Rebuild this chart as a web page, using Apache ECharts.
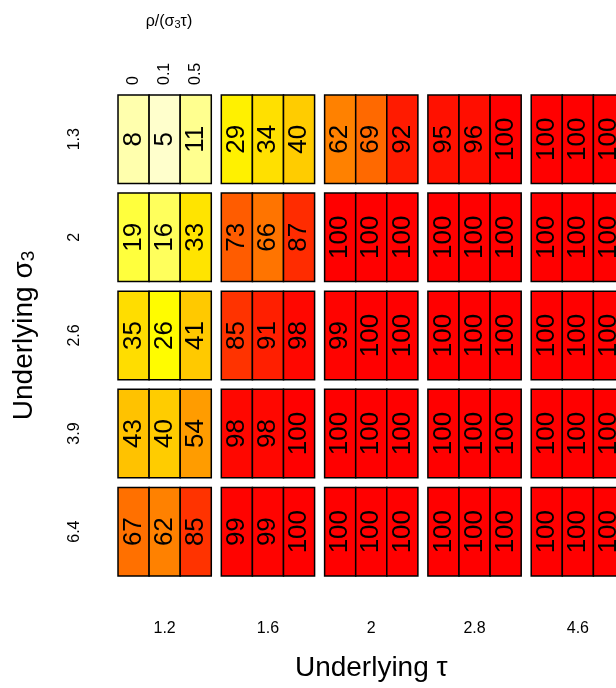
<!DOCTYPE html>
<html>
<head>
<meta charset="utf-8">
<script src="https://cdn.jsdelivr.net/npm/echarts@6/dist/echarts.min.js"></script>
<style>
html,body{margin:0;padding:0;background:#fff;}
#chart{width:616px;height:688px;}
</style>
</head>
<body>
<div id="chart"></div>
<script>
// Categories
var tauLabels = ['1.2', '1.6', '2', '2.8', '4.6'];
var sigma3Labels = ['1.3', '2', '2.6', '3.9', '6.4'];
var rhoLabels = ['0', '0.1', '0.5'];

// Values: rows = sigma3, columns = tau
var power_rho0 = [
  [8, 29, 62, 95, 100],
  [19, 73, 100, 100, 100],
  [35, 85, 99, 100, 100],
  [43, 98, 100, 100, 100],
  [67, 99, 100, 100, 100]
];
var power_rho01 = [
  [5, 34, 69, 96, 100],
  [16, 66, 100, 100, 100],
  [26, 91, 100, 100, 100],
  [40, 98, 100, 100, 100],
  [62, 99, 100, 100, 100]
];
var power_rho05 = [
  [11, 40, 92, 100, 100],
  [33, 87, 100, 100, 100],
  [41, 98, 100, 100, 100],
  [54, 100, 100, 100, 100],
  [85, 100, 100, 100, 100]
];

var byRho = [power_rho0, power_rho01, power_rho05];
var data = [];
for (var s = 0; s < sigma3Labels.length; s++) {
  for (var t = 0; t < tauLabels.length; t++) {
    for (var r = 0; r < rhoLabels.length; r++) {
      data.push([t, s, r, byRho[r][s][t]]);
    }
  }
}

var FONT = "'Liberation Sans', Arial, Helvetica, sans-serif";
var FILL_W = 0.903, FILL_H = 0.902;

var chart = echarts.init(document.getElementById('chart'), null, {renderer: 'canvas'});
chart.setOption({
  backgroundColor: '#ffffff',
  animation: false,
  textStyle: {fontFamily: FONT, color: '#000'},
  title: {
    text: '{a|ρ/(σ}{s|3}{a|τ)}',
    left: 164, top: 6, textAlign: 'center',
    textStyle: {
      fontWeight: 'normal',
      rich: {
        a: {fontFamily: FONT, fontSize: 16, fontWeight: 'normal', color: '#000', verticalAlign: 'bottom', lineHeight: 19},
        s: {fontFamily: FONT, fontSize: 11, fontWeight: 'normal', color: '#000', verticalAlign: 'bottom', lineHeight: 13}
      }
    }
  },
  grid: [
    {left: 113, top: 90.2, width: 516.5, height: 490.5, outerBoundsMode: 'none', containLabel: false},
    {left: 118.3, top: 95, width: 93.3, height: 88.5, outerBoundsMode: 'none', containLabel: false}
  ],
  xAxis: [
    {
      type: 'category', gridIndex: 0, data: tauLabels,
      axisLine: {show: false}, axisTick: {show: false}, splitLine: {show: false},
      axisLabel: {fontSize: 16, color: '#000', fontFamily: FONT, margin: 40},
      name: 'Underlying τ', nameLocation: 'middle', nameGap: 74,
      nameTextStyle: {fontSize: 28, color: '#000', fontFamily: FONT}
    },
    {
      type: 'category', gridIndex: 1, data: rhoLabels, position: 'top',
      axisLine: {show: false}, axisTick: {show: false}, splitLine: {show: false},
      axisLabel: {fontSize: 16, color: '#000', fontFamily: FONT, rotate: 90, margin: 10}
    }
  ],
  yAxis: [
    {
      type: 'category', gridIndex: 0, data: sigma3Labels, inverse: true,
      axisLine: {show: false}, axisTick: {show: false}, splitLine: {show: false},
      axisLabel: {fontSize: 16, color: '#000', fontFamily: FONT, rotate: 90, margin: 30},
      name: '{a|Underlying σ}{s|3}', nameLocation: 'middle', nameGap: 75, nameRotate: 90,
      nameTextStyle: {
        rich: {
          a: {fontFamily: FONT, fontSize: 28, color: '#000', verticalAlign: 'bottom', lineHeight: 31},
          s: {fontFamily: FONT, fontSize: 19, color: '#000', verticalAlign: 'bottom', lineHeight: 22}
        }
      }
    },
    {
      type: 'value', gridIndex: 1, show: false
    }
  ],
  visualMap: {
    type: 'continuous', show: false, min: 0, max: 100, dimension: 3, seriesIndex: 0,
    inRange: {color: ['#FFFFFF', '#FFFF00', '#FFAA00', '#FF5500', '#FF0000']}
  },
  series: [{
    type: 'custom',
    xAxisIndex: 0, yAxisIndex: 0,
    data: data,
    encode: {x: 0, y: 1},
    renderItem: function (params, api) {
      var c = api.coord([api.value(0), api.value(1)]);
      var sz = api.size([1, 1]);
      var gw = sz[0] * FILL_W;
      var cw = gw / 3;
      var ch = sz[1] * FILL_H;
      var r = api.value(2);
      var x0 = c[0] - gw / 2 + r * cw;
      var y0 = c[1] - ch / 2;
      return {
        type: 'group',
        children: [
          {
            type: 'rect',
            shape: {x: x0, y: y0, width: cw, height: ch},
            style: {fill: api.visual('color'), stroke: '#000', lineWidth: 1.5}
          },
          {
            type: 'text',
            x: x0 + cw / 2, y: y0 + ch / 2,
            rotation: Math.PI / 2,
            style: {
              text: String(api.value(3)),
              x: 0, y: 0,
              fontSize: 26, fontFamily: FONT, fill: '#000',
              align: 'center', verticalAlign: 'middle'
            }
          }
        ]
      };
    }
  }]
});
</script>
</body>
</html>
